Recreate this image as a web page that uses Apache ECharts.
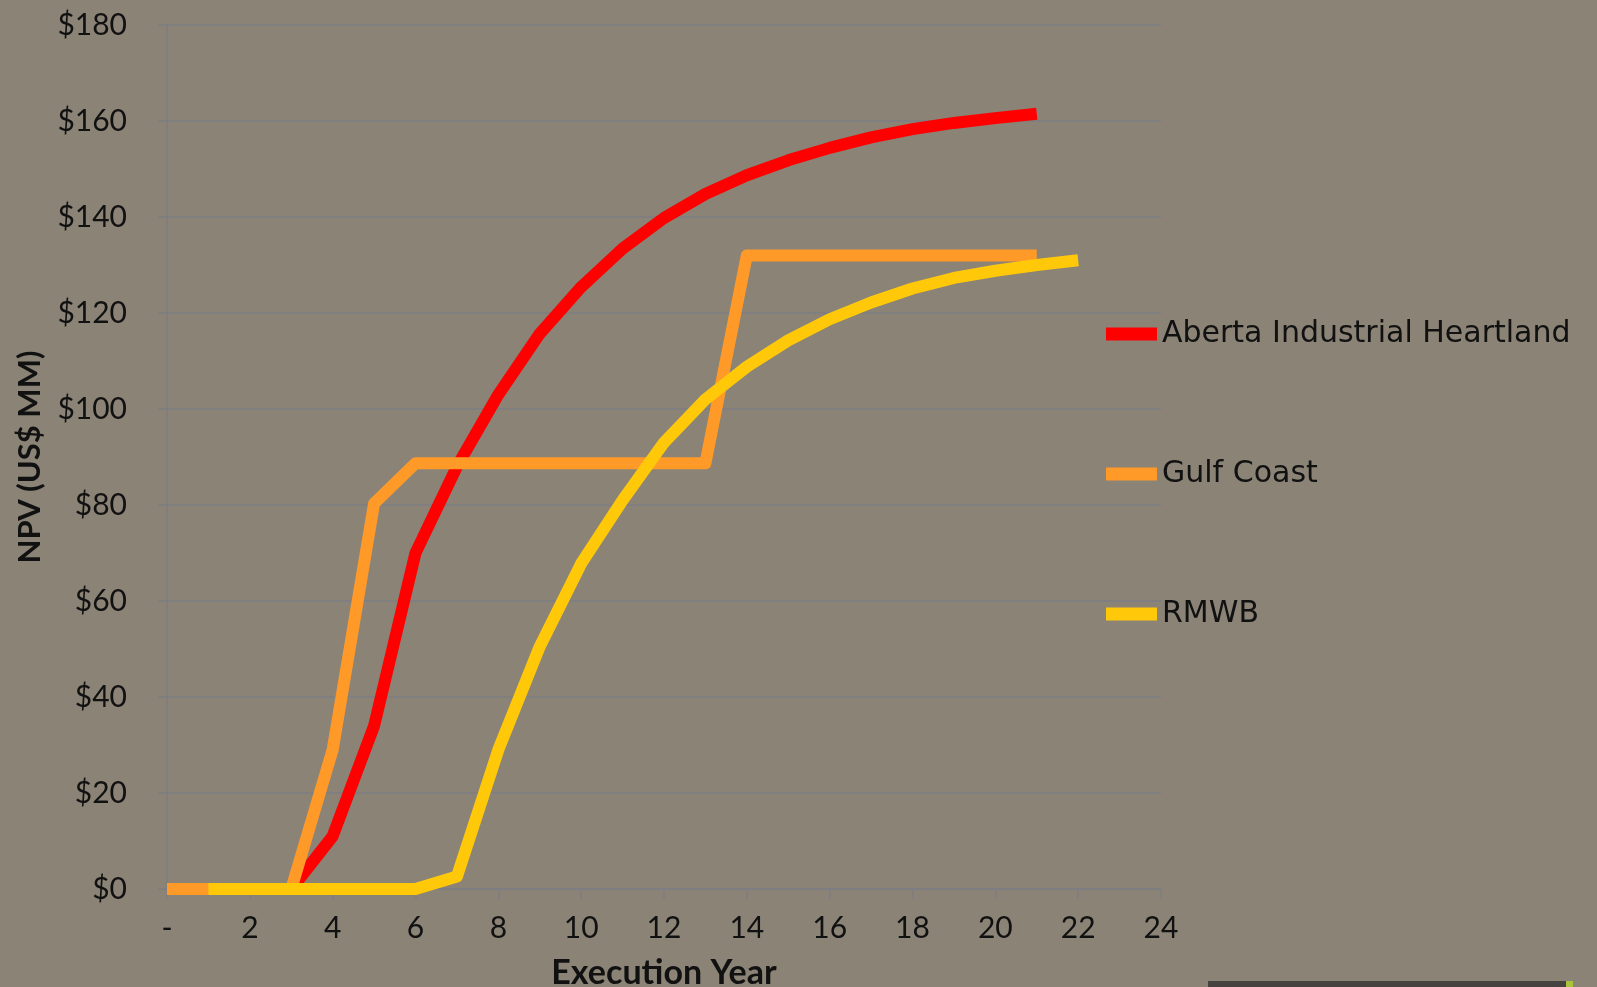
<!DOCTYPE html>
<html>
<head>
<meta charset="utf-8">
<script src="https://cdn.jsdelivr.net/npm/echarts@6/dist/echarts.min.js"></script>
<style>
html,body{margin:0;padding:0;background:#8a8376;}
#chart{width:1597px;height:987px;}
</style>
</head>
<body>
<div id="chart"></div>
<script>
// ---- data ----
const seriesNames = ['Aberta Industrial Heartland', 'Gulf Coast', 'RMWB'];
const xTicks = [0, 2, 4, 6, 8, 10, 12, 14, 16, 18, 20, 22, 24];

const heartlandYears = [3, 4, 5, 6, 7, 8, 9, 10, 11, 12, 13, 14, 15, 16, 17, 18, 19, 20, 21];
const heartlandNPV = [0, 11, 34, 70, 88, 103, 115.7, 125.4, 133.4, 139.8, 144.8, 148.7, 151.8, 154.4, 156.6, 158.3, 159.6, 160.6, 161.5];

const gulfYears = [0, 1, 2, 3, 4, 5, 6, 7, 8, 9, 10, 11, 12, 13, 14, 15, 16, 17, 18, 19, 20, 21];
const gulfNPV = [0, 0, 0, 0, 29, 80.3, 88.7, 88.7, 88.7, 88.7, 88.7, 88.7, 88.7, 88.7, 132, 132, 132, 132, 132, 132, 132, 132];

const rmwbYears = [1, 2, 3, 4, 5, 6, 7, 8, 9, 10, 11, 12, 13, 14, 15, 16, 17, 18, 19, 20, 21, 22];
const rmwbNPV = [0, 0, 0, 0, 0, 0, 2.6, 29, 50.5, 67.8, 81, 93, 102, 108.8, 114.3, 118.7, 122.2, 125.1, 127.3, 128.8, 130, 131];

const colors = ['#ff0000', '#ff9a28', '#ffc90a'];

function pairs(xs, ys) { return xs.map((x, i) => [x, ys[i]]); }

const FONT = 'Lato';
const chart = echarts.init(document.getElementById('chart'));
const lineCommon = (name, data, color, z) => ({
  name: name,
  type: 'line',
  data: data,
  symbol: 'none',
  color: color,
  z: z,
  lineStyle: { color: color, width: 12, cap: 'butt', join: 'round' },
  emphasis: { disabled: true },
  animation: false
});

chart.setOption({
  backgroundColor: '#8a8376',
  animation: false,
  textStyle: { fontFamily: FONT, color: '#000' },
  grid: { left: 167, right: 436, top: 25, bottom: 98, containLabel: false, outerBoundsMode: 'none' },
  legend: {
    orient: 'vertical',
    left: 1106,
    top: 314,
    padding: 0,
    icon: 'rect',
    itemWidth: 51,
    itemHeight: 13,
    itemGap: 100,
    data: seriesNames,
    textStyle: { fontFamily: 'DejaVu Sans', fontSize: 30, color: '#111', lineHeight: 40 },
    selectedMode: false
  },
  xAxis: {
    type: 'value',
    min: 0,
    max: 24,
    interval: 2,
    name: 'Execution Year',
    nameLocation: 'middle',
    nameGap: 67,
    nameTextStyle: { fontFamily: FONT, fontWeight: 'bold', fontSize: 34, color: '#111' },
    axisLine: { show: true, lineStyle: { color: '#7d7d82', width: 1.5 } },
    axisTick: { show: true, length: 10, lineStyle: { color: '#7d7d82', width: 1.5 } },
    axisLabel: {
      fontFamily: FONT, fontSize: 30, color: '#111', margin: 24,
      formatter: v => v === 0 ? '-' : String(v)
    },
    splitLine: { show: false }
  },
  yAxis: {
    type: 'value',
    min: 0,
    max: 180,
    interval: 20,
    name: 'NPV (US$ MM)',
    nameLocation: 'middle',
    nameGap: 122,
    nameTextStyle: { fontFamily: FONT, fontWeight: 'bold', fontSize: 31, color: '#111' },
    axisLine: { show: true, lineStyle: { color: '#7d7d82', width: 1.5 } },
    axisTick: { show: true, length: 9, lineStyle: { color: '#7d7d82', width: 1.5 } },
    axisLabel: {
      fontFamily: FONT, fontSize: 30, color: '#111', margin: 40,
      formatter: v => '$' + v
    },
    splitLine: { show: true, lineStyle: { color: '#7d7d82', width: 1.5 } }
  },
  graphic: [
    { type: 'rect', shape: { x: 1208, y: 981, width: 358, height: 6 }, style: { fill: '#45423f' }, silent: true },
    { type: 'rect', shape: { x: 1566, y: 981, width: 7, height: 6 }, style: { fill: '#a8c43a' }, silent: true }
  ],
  series: [
    lineCommon(seriesNames[0], pairs(heartlandYears, heartlandNPV), colors[0], 2),
    lineCommon(seriesNames[1], pairs(gulfYears, gulfNPV), colors[1], 3),
    lineCommon(seriesNames[2], pairs(rmwbYears, rmwbNPV), colors[2], 4)
  ]
});
</script>
</body>
</html>
